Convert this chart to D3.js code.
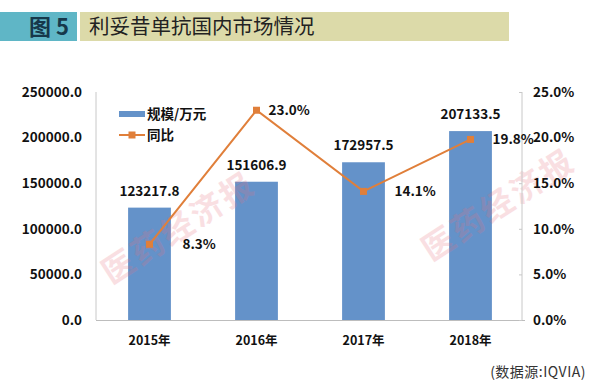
<!DOCTYPE html>
<html><head><meta charset="utf-8">
<script src="https://cdn.jsdelivr.net/npm/d3@7/dist/d3.min.js"></script>
<style>
html,body{margin:0;padding:0;background:#fff;}
svg{display:block;}
text{font-family:"Noto Sans CJK SC","Noto Sans",sans-serif;}
</style></head>
<body>
<svg id="c" width="600" height="385"></svg>
<script>
const categories = ["2015年","2016年","2017年","2018年"];
const scaleValues = [123217.8, 151606.9, 172957.5, 207133.5];
const yoyValues = [8.3, 23.0, 14.1, 19.8];
const leftTicks = [0, 50000, 100000, 150000, 200000, 250000];
const rightTicks = [0, 5, 10, 15, 20, 25];
const seriesNames = ["规模/万元", "同比"];
const titleNum = "图 5";
const titleText = "利妥昔单抗国内市场情况";
const sourceText = "(数据源:IQVIA)";
const watermark = "医药经济报";
// label layout (horizontal offsets of line labels from their points)
const lineLabelDx = [33, 12, 31, 22];

const svg = d3.select("#c");
const L = 96, R = 524, T = 92, B = 320;
const blue = "#6492c9", orange = "#e07f3a";

// title bars
svg.append("rect").attr("x",0).attr("y",12).attr("width",77).attr("height",29).attr("fill","#5fb6c6");
svg.append("rect").attr("x",80).attr("y",12).attr("width",429).attr("height",29).attr("fill","#dcdaa9");
svg.append("text").attr("x",69).attr("y",34.5).attr("text-anchor","end")
  .attr("font-size",22).attr("font-weight","bold").attr("fill","#16384a").text(titleNum);
svg.append("text").attr("x",89).attr("y",34).attr("font-size",20.5).attr("fill","#222").text(titleText);

const x = d3.scaleBand().domain(categories).range([L,R]).paddingInner(0.6).paddingOuter(0.3);
const yL = d3.scaleLinear().domain([0,250000]).range([B,T]);
const yR = d3.scaleLinear().domain([0,25]).range([B,T]);

// bars
svg.append("g").selectAll("rect").data(scaleValues).join("rect")
  .attr("x",(d,i)=>x(categories[i])).attr("width",x.bandwidth())
  .attr("y",d=>yL(d)).attr("height",d=>B-yL(d)).attr("fill",blue);

// watermark (over the bars)
[[180,230],[500,207]].forEach(p=>{
  svg.append("text").attr("transform",`translate(${p[0]},${p[1]}) rotate(-33)`)
    .attr("text-anchor","middle").attr("dominant-baseline","middle")
    .attr("font-size",32).attr("font-weight","bold").attr("letter-spacing",3)
    .attr("fill","#e8707e").attr("opacity",0.22).text(watermark);
});

// axes lines
const axisColor = "#c8c8c8";
svg.append("line").attr("x1",L).attr("x2",L).attr("y1",T).attr("y2",B).attr("stroke",axisColor);
svg.append("line").attr("x1",R-2).attr("x2",R-2).attr("y1",T).attr("y2",B).attr("stroke",axisColor);
svg.append("line").attr("x1",L).attr("x2",R+1).attr("y1",B+0.5).attr("y2",B+0.5).attr("stroke","#bdbdbd");

// left axis
const gl = svg.append("g").attr("transform",`translate(${L},0)`)
  .call(d3.axisLeft(yL).tickValues(leftTicks).tickSize(0).tickPadding(14).tickFormat(d=>d.toFixed(1)));
gl.select(".domain").remove();
gl.selectAll("text").attr("font-size",13.5).attr("font-weight","bold").attr("fill","#111")
  .attr("font-family","'Noto Sans CJK SC',sans-serif");

// right axis
const gr = svg.append("g").attr("transform",`translate(${R-2},0)`)
  .call(d3.axisRight(yR).tickValues(rightTicks).tickSize(0).tickPadding(11).tickFormat(d=>d.toFixed(1)+"%"));
gr.select(".domain").remove();
gr.selectAll("text").attr("font-size",13.5).attr("font-weight","bold").attr("fill","#111")
  .attr("font-family","'Noto Sans CJK SC',sans-serif");
svg.append("g").selectAll("line").data(rightTicks).join("line")
  .attr("x1",R-5).attr("x2",R-2).attr("y1",d=>yR(d)+0.5).attr("y2",d=>yR(d)+0.5).attr("stroke",axisColor);

// x axis labels
const gx = svg.append("g").attr("transform",`translate(0,${B})`)
  .call(d3.axisBottom(x).tickSize(0).tickPadding(16));
gx.select(".domain").remove();
gx.selectAll("text").attr("font-size",12.5).attr("font-weight","bold").attr("fill","#111")
  .attr("font-family","'Noto Sans CJK SC',sans-serif");

// bar labels
svg.append("g").selectAll("text").data(scaleValues).join("text")
  .attr("x",(d,i)=>x(categories[i])+x.bandwidth()/2).attr("y",d=>yL(d)-12)
  .attr("text-anchor","middle").attr("font-size",13.5).attr("font-weight","bold").attr("fill","#111")
  .text(d=>d.toFixed(1));

// line
const cx = (i)=>x(categories[i])+x.bandwidth()/2;
svg.append("path").datum(yoyValues)
  .attr("d",d3.line().x((d,i)=>cx(i)).y(d=>yR(d)))
  .attr("fill","none").attr("stroke",orange).attr("stroke-width",2);
svg.append("g").selectAll("rect").data(yoyValues).join("rect")
  .attr("x",(d,i)=>cx(i)-3.5).attr("y",d=>yR(d)-3.5).attr("width",7).attr("height",7).attr("fill",orange);
svg.append("g").selectAll("text").data(yoyValues).join("text")
  .attr("x",(d,i)=>cx(i)+lineLabelDx[i]).attr("y",d=>yR(d)+5)
  .attr("font-size",13.5).attr("font-weight","bold").attr("fill","#111")
  .text(d=>d.toFixed(1)+"%");

// legend
svg.append("rect").attr("x",119).attr("y",111).attr("width",26).attr("height",6).attr("fill",blue);
svg.append("text").attr("x",147).attr("y",119).attr("font-size",13.5).attr("font-weight","bold").attr("fill","#111").text(seriesNames[0]);
svg.append("line").attr("x1",119).attr("x2",145).attr("y1",135).attr("y2",135).attr("stroke",orange).attr("stroke-width",2);
svg.append("rect").attr("x",128.5).attr("y",131.5).attr("width",7).attr("height",7).attr("fill",orange);
svg.append("text").attr("x",147).attr("y",140).attr("font-size",13.5).attr("font-weight","bold").attr("fill","#111").text(seriesNames[1]);

// source
svg.append("text").attr("x",586).attr("y",377).attr("text-anchor","end")
  .attr("font-size",14).attr("fill","#333").attr("letter-spacing",0.5).text(sourceText);
</script>
</body></html>
